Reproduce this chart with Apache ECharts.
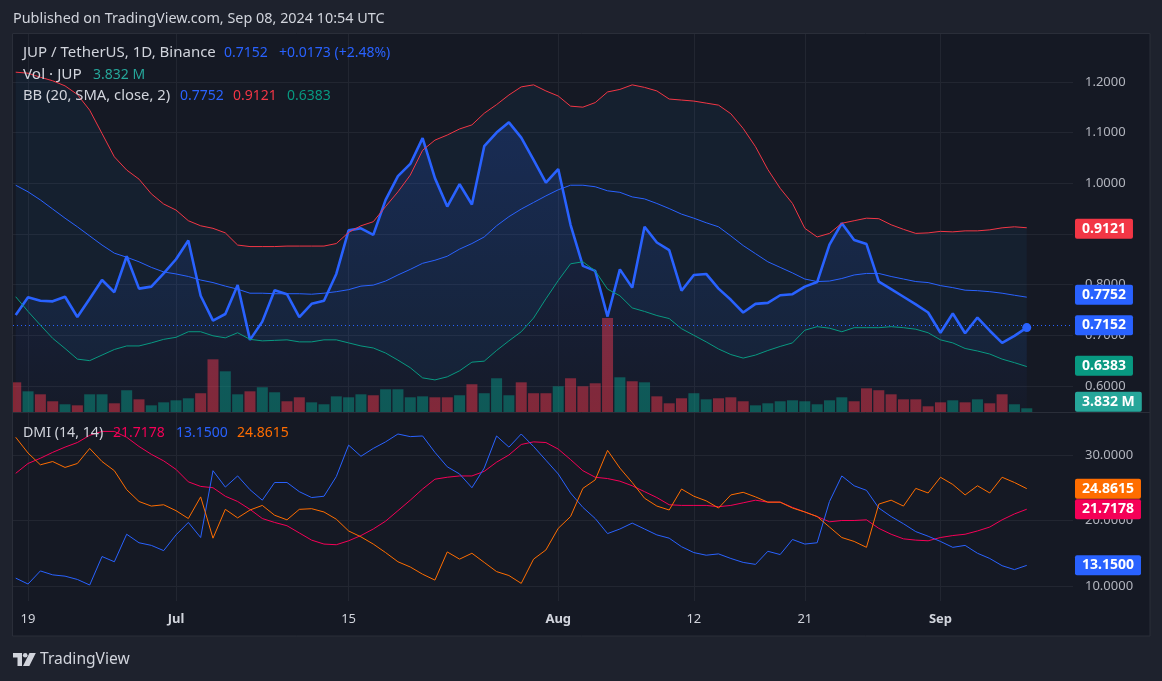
<!DOCTYPE html>
<html><head><meta charset="utf-8">
<script src="https://cdn.jsdelivr.net/npm/echarts@6/dist/echarts.min.js"></script>
<style>html,body{margin:0;padding:0;background:#1e222d;}#c{width:1162px;height:681px;}</style>
</head><body><div id="c"></div>
<script>
// ---- data (day index 0 = 2024-06-18 ... 82 = 2024-09-08) ----
const startDate = '2024-06-18';
const timeTickDays = [1, 13, 27, 44, 55, 64, 75];
const timeTickLabels = ['19', 'Jul', '15', 'Aug', '12', '21', 'Sep'];
const priceTicks = [0.6, 0.7, 0.8, 0.9, 1.0, 1.1, 1.2];
const dmiTicks = [10, 20, 30];

const close = [0.740,0.775,0.768,0.767,0.776,0.736,0.772,0.809,0.785,0.856,
0.792,0.796,0.822,0.850,0.887,0.778,0.729,0.742,0.799,0.691,
0.727,0.789,0.781,0.736,0.762,0.768,0.821,0.907,0.911,0.898,
0.967,1.014,1.038,1.089,1.010,0.954,0.998,0.958,1.073,1.100,
1.120,1.090,1.046,1.001,1.028,0.918,0.837,0.827,0.737,0.830,
0.794,0.914,0.883,0.868,0.788,0.819,0.821,0.792,0.770,0.745,
0.762,0.764,0.779,0.781,0.796,0.805,0.879,0.921,0.888,0.880,
0.806,0.791,0.776,0.761,0.745,0.705,0.743,0.704,0.735,0.709,
0.685,0.699,0.7152];

const bbUpper = [1.219,1.217,1.209,1.202,1.192,1.175,1.144,1.098,1.052,1.026,
1.008,0.979,0.959,0.947,0.926,0.916,0.911,0.902,0.878,0.875,
0.875,0.875,0.876,0.876,0.876,0.876,0.881,0.903,0.916,0.924,
0.954,0.983,1.016,1.065,1.085,1.095,1.107,1.115,1.138,1.155,
1.174,1.190,1.194,1.182,1.172,1.152,1.150,1.159,1.180,1.185,
1.194,1.189,1.182,1.166,1.164,1.162,1.158,1.154,1.137,1.108,
1.072,1.027,0.990,0.960,0.911,0.894,0.901,0.921,0.926,0.931,
0.930,0.918,0.909,0.901,0.902,0.905,0.904,0.906,0.906,0.908,
0.912,0.914,0.9121];

const bbBasis = [0.996,0.983,0.967,0.949,0.931,0.914,0.896,0.878,0.862,0.854,
0.845,0.834,0.825,0.821,0.816,0.809,0.804,0.797,0.791,0.783,
0.783,0.782,0.782,0.782,0.781,0.783,0.786,0.790,0.797,0.799,
0.807,0.819,0.830,0.842,0.848,0.856,0.870,0.881,0.894,0.916,
0.934,0.949,0.962,0.975,0.987,0.996,0.996,0.993,0.985,0.982,
0.973,0.969,0.960,0.950,0.939,0.931,0.922,0.914,0.896,0.877,
0.861,0.845,0.834,0.823,0.811,0.806,0.807,0.812,0.819,0.822,
0.822,0.816,0.811,0.806,0.804,0.798,0.794,0.789,0.788,0.786,
0.783,0.779,0.7752];

const bbLower = [0.776,0.747,0.720,0.694,0.674,0.653,0.650,0.661,0.672,0.679,
0.679,0.685,0.692,0.696,0.707,0.707,0.699,0.695,0.705,0.692,
0.689,0.690,0.691,0.687,0.687,0.691,0.691,0.685,0.679,0.675,
0.665,0.651,0.636,0.616,0.612,0.618,0.630,0.647,0.649,0.670,
0.689,0.707,0.734,0.772,0.808,0.841,0.845,0.827,0.791,0.778,
0.754,0.747,0.739,0.733,0.713,0.700,0.687,0.673,0.662,0.655,
0.661,0.670,0.678,0.685,0.710,0.717,0.714,0.707,0.715,0.715,
0.715,0.717,0.715,0.712,0.705,0.691,0.685,0.674,0.669,0.663,
0.653,0.646,0.6383];

// volume in millions of JUP
const volume = [30.7,21.4,18.3,11.1,8.0,6.9,18.3,18.3,9.0,22.5,
13.1,6.9,10.0,12.1,14.2,19.4,54.5,42.1,18.3,21.4,
25.6,20.4,11.1,15.2,10.0,8.0,16.2,15.2,18.3,17.3,
23.5,23.5,15.2,16.2,15.2,15.2,17.3,28.7,19.4,34.9,
17.3,30.7,19.4,19.4,26.6,34.9,26.6,29.7,97.3,35.9,
31.8,30.7,16.2,9.0,14.2,19.4,13.1,14.2,15.2,11.1,
6.9,9.0,11.1,12.1,11.1,8.0,12.1,15.2,11.1,24.5,
22.5,18.3,13.1,13.1,5.9,10.0,12.1,10.0,13.1,9.0,
18.3,8.0,3.832];

const adx = [27.2,28.7,29.5,30.4,31.2,31.9,33.0,33.6,33.6,32.7,
31.3,30.1,29.1,27.8,25.9,25.2,25.0,23.7,22.9,21.7,
20.3,19.7,19.2,18.1,17.0,16.4,16.3,16.9,17.7,18.7,
19.9,21.5,23.1,24.8,26.3,26.6,26.8,26.8,27.5,28.9,
30.0,31.6,32.0,31.9,30.9,29.3,27.6,26.6,26.4,26.0,
25.3,24.4,23.5,22.4,22.3,22.3,22.3,22.1,22.3,22.7,
23.1,22.8,22.8,22.0,21.3,20.6,19.8,20.0,20.0,20.1,
18.8,17.9,17.2,17.0,16.9,17.4,17.7,17.9,18.4,19.0,
20.1,21.0,21.7178];

const plusDI = [11.2,10.3,12.3,11.7,11.5,11.0,10.15,14.5,13.7,17.9,
16.6,16.2,15.4,17.8,19.7,17.4,27.6,25.1,26.8,24.7,
23.1,25.8,25.8,24.4,23.5,23.7,26.7,31.5,29.8,31.0,
32.0,33.2,32.8,32.9,30.4,28.2,27.1,25.0,28.0,32.9,
31.2,33.2,31.3,29.2,27.1,24.2,22.0,20.3,18.0,18.7,
19.6,18.7,17.8,17.3,16.0,15.1,14.7,14.9,14.2,13.6,
13.3,15.3,14.8,17.1,16.4,16.6,22.9,26.8,25.3,24.6,
21.9,20.6,19.5,18.3,17.6,16.8,15.9,16.2,15.0,14.2,
13.1,12.5,13.15];

const minusDI = [32.7,30.3,28.5,29.0,28.1,28.7,31.0,29.0,27.6,24.7,
22.9,22.2,22.4,21.5,20.3,23.6,17.3,21.7,20.4,21.6,
22.3,20.8,20.1,21.7,21.8,21.3,20.2,18.4,17.5,16.4,
15.1,13.7,12.9,11.8,10.9,15.2,14.1,15.0,13.6,12.2,
11.6,10.4,14.1,15.5,18.8,20.6,24.9,26.2,30.7,28.0,
25.8,23.4,22.2,21.6,24.8,23.7,23.0,21.9,23.9,24.3,
23.6,22.8,22.8,21.9,21.3,20.6,19.0,17.4,16.8,15.9,
22.5,23.1,22.2,24.9,24.2,26.6,25.5,23.9,25.3,24.2,
26.6,25.8,24.8615];

// ---- styling ----
const FONT = '"Noto Sans", Roboto, sans-serif';
const PANE = '#151924';
const OUTER = '#1e222d';
const BORDER = '#2a2e39';
const GRIDC = '#222631';
const TXT = '#d1d4dc';
const AXT = '#b2b5be';
const BLUE = '#2962ff', RED = '#f23645', TEAL = '#089981', VOLTEAL = '#26a69a';
const ADXC = '#f50057', ORANGE = '#ff6d00';

const last = close.length - 1;
const pts = arr => arr.map((v, i) => [i, v]);
const X_MIN = -0.22, X_MAX = 85.75;

function badge(bg, text, dy) {
  return { show: true, position: 'end', formatter: text, color: '#ffffff', backgroundColor: bg,
    padding: [3, 7, 3, 7], fontSize: 14, fontWeight: 'bold', lineHeight: 14, distance: 2,
    borderRadius: 2, fontFamily: FONT, offset: [0, dy || 0], opacity: 1 };
}
function hiddenLine(v, bg, text, dy) {
  return { silent: true, symbol: 'none', animation: false, data: [{ yAxis: v }],
    lineStyle: { color: 'rgba(0,0,0,0)', width: 0 }, label: badge(bg, text, dy), emphasis: { disabled: true } };
}
function xAx(gi, showLabels) {
  return { type: 'value', gridIndex: gi, min: X_MIN, max: X_MAX,
    axisLine: { show: false },
    axisTick: { show: false, customValues: timeTickDays },
    axisLabel: { show: showLabels, customValues: timeTickDays, margin: 12, color: TXT, fontSize: 13, fontFamily: FONT,
      formatter: v => { const k = timeTickDays.indexOf(v); if (k < 0) return ''; const s = timeTickLabels[k]; return /[A-Za-z]/.test(s) ? '{m|' + s + '}' : s; },
      rich: { m: { fontWeight: 'bold', color: TXT, fontSize: 13, fontFamily: FONT } } },
    splitLine: { show: true, lineStyle: { color: GRIDC, width: 1 } } };
}

const chart = echarts.init(document.getElementById('c'), null, { renderer: 'canvas' });

function legendText(x, y, text, color, size) {
  return { type: 'text', x: x, y: y, z: 100, silent: true,
    style: { text: text, fill: color, fontSize: size || 14, fontFamily: FONT, verticalAlign: 'middle', align: 'left' } };
}

const graphics = [
  { type: 'rect', shape: { x: 0, y: 0, width: 1162, height: 33 }, style: { fill: OUTER }, z: 50, silent: true },
  { type: 'rect', shape: { x: 0, y: 636, width: 1162, height: 45 }, style: { fill: OUTER }, z: 50, silent: true },
  { type: 'rect', shape: { x: 0, y: 0, width: 12, height: 681 }, style: { fill: OUTER }, z: 50, silent: true },
  { type: 'rect', shape: { x: 1150, y: 0, width: 12, height: 681 }, style: { fill: OUTER }, z: 50, silent: true },
  { type: 'rect', shape: { x: 12.5, y: 33.5, width: 1137.5, height: 602.5 }, style: { fill: 'none', stroke: BORDER, lineWidth: 1 }, z: 51, silent: true },
  { type: 'line', shape: { x1: 12.5, y1: 412.5, x2: 1150, y2: 412.5 }, style: { stroke: BORDER, lineWidth: 1 }, z: 51, silent: true },
  legendText(13, 19, 'Published on TradingView.com, Sep 08, 2024 10:54 UTC', TXT, 14.4),
  legendText(23, 53, 'JUP / TetherUS, 1D, Binance', TXT, 15),
  legendText(224, 53, '0.7152', BLUE),
  legendText(279, 53, '+0.0173 (+2.48%)', BLUE),
  legendText(23, 75, 'Vol · JUP', TXT, 15.3),
  legendText(93, 75, '3.832 M', VOLTEAL),
  legendText(23, 96, 'BB (20, SMA, close, 2)', TXT, 14.8),
  legendText(180, 96, '0.7752', BLUE),
  legendText(233, 96, '0.9121', RED),
  legendText(287, 96, '0.6383', TEAL),
  legendText(23, 433, 'DMI (14, 14)', TXT, 14.2),
  legendText(113, 433, '21.7178', ADXC),
  legendText(176, 433, '13.1500', BLUE),
  legendText(237, 433, '24.8615', ORANGE),
  { type: 'polygon', z: 60, silent: true, shape: { points: [[13,653],[22,653],[22,666],[17.5,666],[17.5,657.5],[13,657.5]] }, style: { fill: TXT } },
  { type: 'circle', z: 60, silent: true, shape: { cx: 25.2, cy: 655.3, r: 2.3 }, style: { fill: TXT } },
  { type: 'polygon', z: 60, silent: true, shape: { points: [[29.5,653],[35.8,653],[29.3,666],[23,666]] }, style: { fill: TXT } },
  legendText(40, 660, 'TradingView', TXT, 15.6)
];

const option = {
  animation: false,
  backgroundColor: PANE,
  textStyle: { fontFamily: FONT },
  grid: [
    { left: 13, top: 34, width: 1060, height: 378, containLabel: false, outerBoundsMode: 'none' },
    { left: 13, top: 412, width: 1060, height: 189, containLabel: false, outerBoundsMode: 'none' }
  ],
  xAxis: [xAx(0, false), xAx(1, true)],
  yAxis: [
    { type: 'value', gridIndex: 0, position: 'right', min: 0.5487, max: 1.2943,
      axisLine: { show: false }, axisTick: { show: false, customValues: priceTicks },
      axisLabel: { customValues: priceTicks, formatter: v => v.toFixed(4), color: AXT, fontSize: 13, margin: 12, fontFamily: FONT },
      splitLine: { show: true, lineStyle: { color: GRIDC } } },
    { type: 'value', gridIndex: 0, min: 0, max: 391, show: false, splitLine: { show: false } },
    { type: 'value', gridIndex: 1, position: 'right', min: 7.71, max: 36.56,
      axisLine: { show: false }, axisTick: { show: false, customValues: dmiTicks },
      axisLabel: { customValues: dmiTicks, formatter: v => v.toFixed(4), color: AXT, fontSize: 13, margin: 12, fontFamily: FONT },
      splitLine: { show: true, lineStyle: { color: GRIDC } } }
  ],
  graphic: graphics,
  series: [
    { type: 'custom', name: 'bbfill', xAxisIndex: 0, yAxisIndex: 0, data: [0], silent: true, z: 1,
      renderItem: (params, api) => {
        const p = [];
        for (let i = 0; i < bbUpper.length; i++) p.push(api.coord([i, bbUpper[i]]));
        for (let i = bbLower.length - 1; i >= 0; i--) p.push(api.coord([i, bbLower[i]]));
        return { type: 'polygon', shape: { points: p }, style: { fill: 'rgba(33,150,243,0.06)' } };
      } },
    { type: 'bar', name: 'Vol', xAxisIndex: 0, yAxisIndex: 1, barWidth: 11, z: 2, silent: true,
      data: volume.map((v, i) => ({ value: [i, v],
        itemStyle: { color: (i > 0 && close[i] >= close[i - 1]) ? 'rgba(8,153,129,0.5)' : 'rgba(242,54,69,0.5)' } })),
      markLine: hiddenLine(volume[last], VOLTEAL, volume[last].toFixed(3) + ' M', -6.5) },
    { type: 'line', name: 'JUP', xAxisIndex: 0, yAxisIndex: 0, z: 3, silent: true,
      showSymbol: true, symbol: 'none',
      data: close.map((v, i) => i === last ? { value: [i, v], symbol: 'circle', symbolSize: 9, itemStyle: { color: BLUE } } : [i, v]),
      lineStyle: { color: BLUE, width: 2.6 },
      areaStyle: { origin: 'start', color: new echarts.graphic.LinearGradient(0, 0, 0, 1, [
        { offset: 0, color: 'rgba(41,98,255,0.26)' }, { offset: 1, color: 'rgba(41,98,255,0.03)' }]) },
      markLine: { silent: true, symbol: 'none', data: [{ yAxis: close[last] }],
        lineStyle: { color: BLUE, type: [1, 3], width: 1 }, label: badge(BLUE, close[last].toFixed(4)), emphasis: { disabled: true } } },
    { type: 'line', name: 'basis', xAxisIndex: 0, yAxisIndex: 0, z: 4, silent: true, showSymbol: false,
      data: pts(bbBasis), lineStyle: { color: BLUE, width: 1 },
      markLine: hiddenLine(bbBasis[last], BLUE, bbBasis[last].toFixed(4)) },
    { type: 'line', name: 'upper', xAxisIndex: 0, yAxisIndex: 0, z: 4, silent: true, showSymbol: false,
      data: pts(bbUpper), lineStyle: { color: RED, width: 1 },
      markLine: hiddenLine(bbUpper[last], RED, bbUpper[last].toFixed(4)) },
    { type: 'line', name: 'lower', xAxisIndex: 0, yAxisIndex: 0, z: 4, silent: true, showSymbol: false,
      data: pts(bbLower), lineStyle: { color: TEAL, width: 1 },
      markLine: hiddenLine(bbLower[last], TEAL, bbLower[last].toFixed(4)) },
    { type: 'line', name: 'ADX', xAxisIndex: 1, yAxisIndex: 2, z: 4, silent: true, showSymbol: false,
      data: pts(adx), lineStyle: { color: ADXC, width: 1 },
      markLine: hiddenLine(adx[last], ADXC, adx[last].toFixed(4)) },
    { type: 'line', name: '+DI', xAxisIndex: 1, yAxisIndex: 2, z: 4, silent: true, showSymbol: false,
      data: pts(plusDI), lineStyle: { color: BLUE, width: 1 },
      markLine: hiddenLine(plusDI[last], BLUE, plusDI[last].toFixed(4)) },
    { type: 'line', name: '-DI', xAxisIndex: 1, yAxisIndex: 2, z: 4, silent: true, showSymbol: false,
      data: pts(minusDI), lineStyle: { color: ORANGE, width: 1 },
      markLine: hiddenLine(minusDI[last], ORANGE, minusDI[last].toFixed(4)) }
  ]
};
chart.setOption(option);
</script></body></html>
